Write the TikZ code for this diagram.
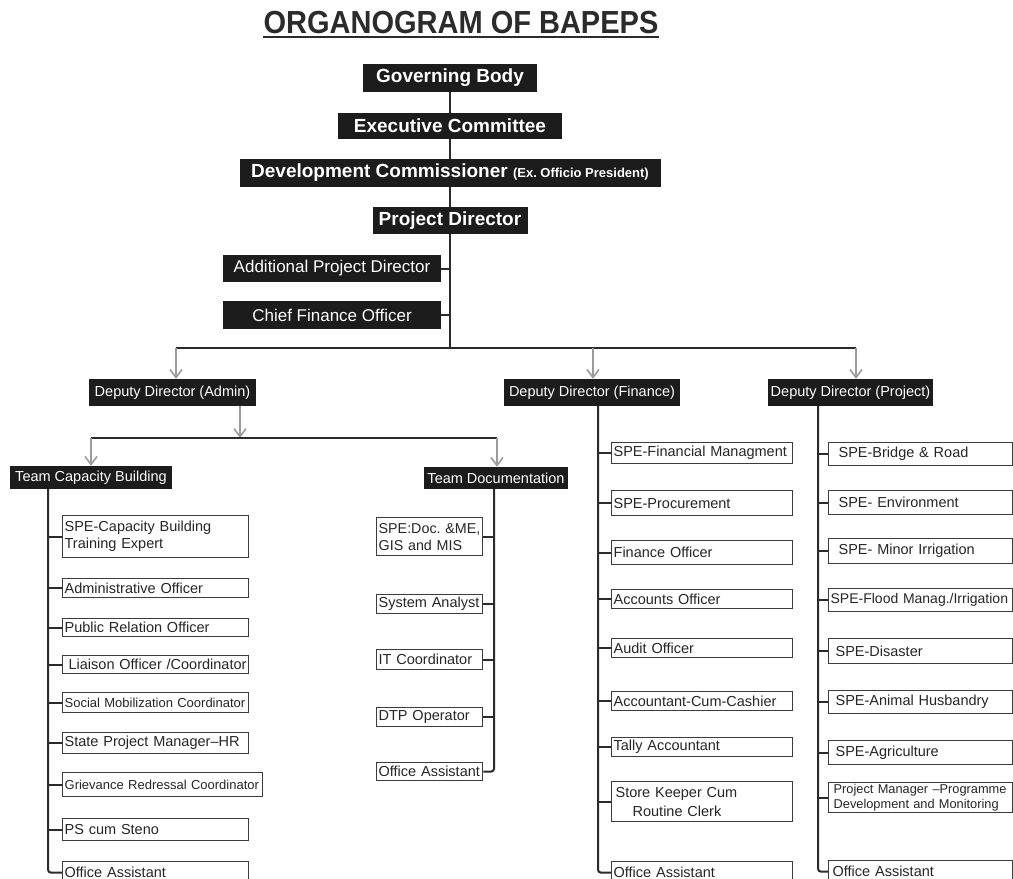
\documentclass[tikz,border=0pt]{standalone}
\usepackage{fontspec}
\setmainfont{Liberation Sans}
\usetikzlibrary{arrows.meta}
\definecolor{boxfill}{HTML}{1C1C1C}
\definecolor{linec}{HTML}{2B2B2B}
\definecolor{bordc}{HTML}{3C3C3C}
\definecolor{txtc}{HTML}{262626}
\definecolor{arrc}{HTML}{9C9C9C}
\newcommand\fsz[2]{\fontsize{#1pt}{#2pt}\selectfont}
\frenchspacing
\begin{document}
\begin{tikzpicture}[x=1pt,y=-1pt,
  blk/.style={fill=boxfill,text=white,inner sep=0pt,anchor=center},
  topblk/.style={blk,font=\bfseries\fsz{19}{22}},
  midblk/.style={blk,font=\fsz{14.5}{17}},
  item/.style={draw=bordc,line width=1.3pt,fill=white,text=txtc,inner xsep=2pt,inner ysep=0pt,
    anchor=north west,align=left,font=\fsz{14.5}{17}},
  colL/.style={item,text width=182pt},
  colM/.style={item,text width=102pt},
  colF/.style={item,text width=177pt},
  colP/.style={item,text width=180pt},
  conn/.style={draw=linec,line width=2pt},
  arr/.style={draw=arrc,line width=1.6pt,-{Straight Barb[length=8pt,width=12pt]}}]
\useasboundingbox[fill=white] (0,0) rectangle (1013,879);

% title
\node[font=\bfseries\fsz{29}{32},inner sep=0pt,anchor=base,text=linec] (title) at (461,33) {\scalebox{1}[1.1]{ORGANOGRAM OF BAPEPS}};
\draw[line width=2pt,linec] ([yshift=-4pt]title.base west) -- ([yshift=-4pt]title.base east);

% top chain
\node[topblk,minimum width=174pt,minimum height=28pt] (gb) at (450,78) {Governing Body};
\node[topblk,minimum width=224pt,minimum height=26pt] (ec) at (450,126) {Executive Committee};
\node[topblk,minimum width=421pt,minimum height=28pt] (dc) at (450,173) {Development Commissioner {\fsz{13}{15}(Ex. Officio President)}};
\node[topblk,minimum width=155pt,minimum height=27pt] (pd) at (450,220.5) {Project Director};
\node[blk,font=\fsz{17}{20},minimum width=218pt,minimum height=27pt] (apd) at (332,268.5) {Additional Project Director};
\node[blk,font=\fsz{17}{20},minimum width=218pt,minimum height=28pt] (cfo) at (332,315) {Chief Finance Officer};

% deputy directors
\node[midblk,minimum width=167pt,minimum height=27pt] (dda) at (172.5,392.5) {Deputy Director (Admin)};
\node[midblk,minimum width=176pt,minimum height=27pt] (ddf) at (592,392.5) {Deputy Director (Finance)};
\node[midblk,minimum width=165pt,minimum height=27pt] (ddp) at (850.5,392.5) {Deputy Director (Project)};

% teams
\node[midblk,minimum width=162pt,minimum height=23pt] (tcb) at (91,477.5) {Team Capacity Building};
\node[midblk,minimum width=144pt,minimum height=22pt] (td) at (496,478) {Team Documentation};

% left column
\node[colL,minimum height=42pt] (l1) at (62,515) {SPE-Capacity Building\\Training Expert};
\node[colL,minimum height=19pt] (l2) at (62,578) {Administrative Officer};
\node[colL,minimum height=18pt] (l3) at (62,618) {Public Relation Officer};
\node[colL,minimum height=18pt] (l4) at (62,655) {\hspace*{4pt}Liaison Officer /Coordinator};
\node[colL,minimum height=20pt,font=\fsz{13}{15}] (l5) at (62,692) {Social Mobilization Coordinator};
\node[colL,minimum height=21pt] (l6) at (62,732) {State Project Manager–HR};
\node[item,text width=196pt,minimum height=24pt,font=\fsz{13}{15}] (l7) at (62,772) {Grievance Redressal Coordinator};
\node[colL,minimum height=22pt] (l8) at (62,818) {PS cum Steno};
\node[colL,minimum height=22pt] (l9) at (62,861) {Office Assistant};

% middle column
\node[colM,minimum height=38pt,font=\fsz{14.3}{17}] (m1) at (376,517) {\mbox{SPE:Doc. \&ME,}\\GIS and MIS};
\node[colM,minimum height=19pt] (m2) at (376,594) {System Analyst};
\node[colM,minimum height=20pt] (m3) at (376,649) {IT Coordinator};
\node[colM,minimum height=19pt] (m4) at (376,707) {DTP Operator};
\node[colM,minimum height=18pt] (m5) at (376,762) {Office Assistant};

% finance column
\node[colF,minimum height=21pt] (f1) at (611,442) {SPE-Financial Managment};
\node[colF,minimum height=25pt] (f2) at (611,490) {SPE-Procurement};
\node[colF,minimum height=24pt] (f3) at (611,540) {Finance Officer};
\node[colF,minimum height=19pt] (f4) at (611,589) {Accounts Officer};
\node[colF,minimum height=19pt] (f5) at (611,638) {Audit Officer};
\node[colF,minimum height=19pt] (f6) at (611,691) {Accountant-Cum-Cashier};
\node[colF,minimum height=19pt] (f7) at (611,737) {Tally Accountant};
\node[colF,minimum height=40pt,font=\fsz{14.5}{19}] (f8) at (611,781) {\hspace*{2pt}Store Keeper Cum\\\hspace*{19pt}Routine Clerk};
\node[colF,minimum height=22pt] (f9) at (611,861) {Office Assistant};

% project column
\node[colP,minimum height=23pt] (p1) at (828,442) {\hspace*{8pt}SPE-Bridge \& Road};
\node[colP,minimum height=24pt] (p2) at (828,490) {\hspace*{8pt}SPE- Environment};
\node[colP,minimum height=25pt] (p3) at (828,538) {\hspace*{8pt}SPE- Minor Irrigation};
\node[colP,minimum height=23pt,font=\fsz{14}{16}] (p4) at (828,588) {SPE-Flood Manag./Irrigation};
\node[colP,minimum height=25pt] (p5) at (828,638) {\hspace*{5pt}SPE-Disaster};
\node[colP,minimum height=23pt] (p6) at (828,690) {\hspace*{5pt}SPE-Animal Husbandry};
\node[colP,minimum height=24pt] (p7) at (828,740) {\hspace*{5pt}SPE-Agriculture};
\node[colP,minimum height=30pt,font=\fsz{12.8}{15}] (p8) at (828,782) {\hspace*{3pt}Project Manager –Programme\\\hspace*{3pt}Development and Monitoring};
\node[colP,minimum height=22pt] (p9) at (828,860) {\hspace*{2pt}Office Assistant};

% trunk coordinates
\coordinate (hub) at (450,348);
\coordinate (bA) at (176,348);
\coordinate (bF) at (593,348);
\coordinate (bP) at (856,348);
\coordinate (dA) at (240,438);
\coordinate (tA) at (91,438);
\coordinate (tD) at (497,438);
\coordinate (trL) at (48,0);
\coordinate (trM) at (494,0);
\coordinate (trF) at (598,0);
\coordinate (trP) at (818,0);

% top connectors
\draw[conn] (gb) -- (ec);
\draw[conn] (ec) -- (dc);
\draw[conn] (dc) -- (pd);
\draw[conn] (pd.south) -- (hub);
\draw[conn] (apd.east) -- (apd.east -| hub);
\draw[conn] (cfo.east) -- (cfo.east -| hub);
\draw[conn] (bA) -- (bP);
\draw[arr] (bA) -- (bA |- dda.north);
\draw[arr] (bF) -- (bF |- ddf.north);
\draw[arr] (bP) -- (bP |- ddp.north);

% admin branch
\draw[arr] (dda.south -| dA) -- (dA);
\draw[conn] (tA) -- (tD);
\draw[arr] (tA) -- (tA |- tcb.north);
\draw[arr] (tD) -- (tD |- td.north);

% column trunks
\draw[conn,rounded corners=3pt] (tcb.south -| trL) |- (l9.west);
\foreach \n in {l1,l2,l3,l4,l5,l6,l7,l8} \draw[conn] (\n.west) -- (\n.west -| trL);
\draw[conn,rounded corners=3pt] (td.south -| trM) |- (m5.east);
\foreach \n in {m1,m2,m3,m4} \draw[conn] (\n.east) -- (\n.east -| trM);
\draw[conn,rounded corners=3pt] (ddf.south -| trF) |- (f9.west);
\foreach \n in {f1,f2,f3,f4,f5,f6,f7,f8} \draw[conn] (\n.west) -- (\n.west -| trF);
\draw[conn,rounded corners=3pt] (ddp.south -| trP) |- (p9.west);
\foreach \n in {p1,p2,p3,p4,p5,p6,p7,p8} \draw[conn] (\n.west) -- (\n.west -| trP);
\end{tikzpicture}
\end{document}
